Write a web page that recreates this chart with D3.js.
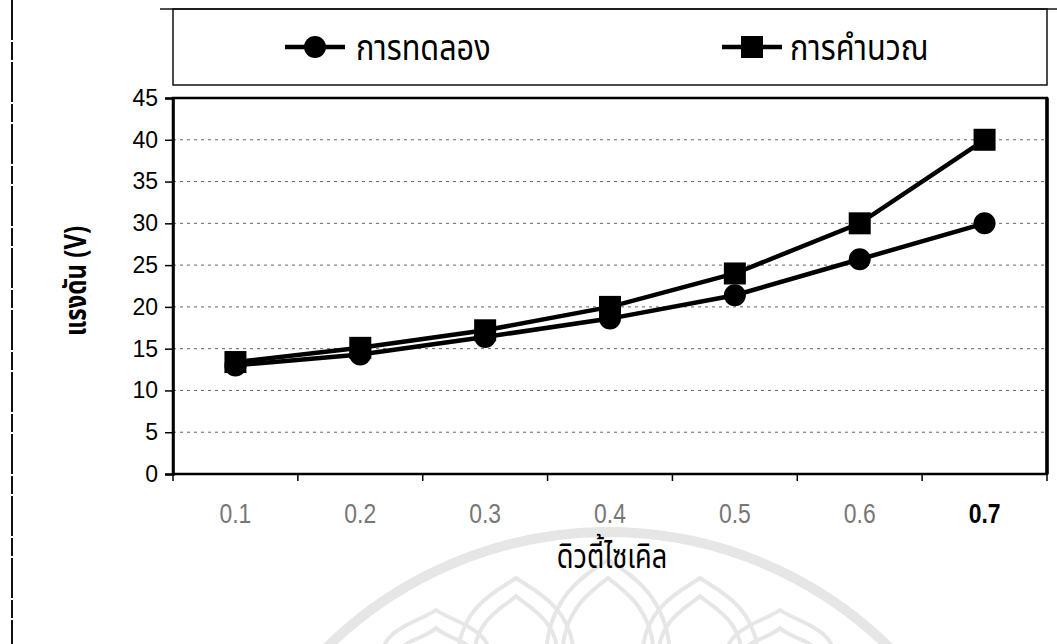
<!DOCTYPE html>
<html>
<head>
<meta charset="utf-8">
<script src="https://cdn.jsdelivr.net/npm/d3@7"></script>
<style>
  html, body { margin: 0; padding: 0; background: #fff; }
  svg { display: block; }
</style>
</head>
<body>
<svg id="chart" width="1057" height="644"></svg>
<script>
// Duty cycle categories and the two measured/computed voltage series
const dutyCycles = ["0.1", "0.2", "0.3", "0.4", "0.5", "0.6", "0.7"];
const experimentVolts = [13.0, 14.3, 16.4, 18.6, 21.4, 25.7, 30.0];
const calculatedVolts = [13.4, 15.1, 17.2, 20.0, 24.0, 30.0, 40.0];
const yTicks = [0, 5, 10, 15, 20, 25, 30, 35, 40, 45];
const seriesNames = ["การทดลอง", "การคำนวณ"];
const yTitle = "แรงดัน (V)";
const xTitle = "ดิวตี้ไซเคิล";

const thaiFont = "'Noto Sans Thai', 'Noto Sans Thai UI', Loma, Garuda, Norasi, sans-serif";

const svg = d3.select("#chart");
const W = 1057, H = 644;
const plot = { left: 173, right: 1047, top: 98, bottom: 474 };

const x = d3.scaleBand().domain(dutyCycles).range([plot.left, plot.right]).padding(0);
const y = d3.scaleLinear().domain([0, 45]).range([plot.bottom, plot.top]);

// faint emblem in the lower background
const wm = svg.append("g").attr("fill", "none").attr("stroke", "#e6e6e6");
wm.append("path")
  .attr("stroke-width", 10)
  .attr("d", d3.arc()({ innerRadius: 400, outerRadius: 400, startAngle: -Math.PI * 0.28, endAngle: Math.PI * 0.28 }))
  .attr("transform", "translate(608,932)");
function petal(cx, tipY, half, baseY) {
  const p = d3.path();
  p.moveTo(cx - half, baseY);
  p.bezierCurveTo(cx - half, tipY + (baseY - tipY) * 0.35, cx - half * 0.3, tipY + 12, cx, tipY);
  p.bezierCurveTo(cx + half * 0.3, tipY + 12, cx + half, tipY + (baseY - tipY) * 0.35, cx + half, baseY);
  return p.toString();
}
const petals = [
  { cx: 608, tip: 560, half: 62 },
  { cx: 516, tip: 578, half: 58 },
  { cx: 700, tip: 578, half: 58 },
  { cx: 436, tip: 610, half: 55 },
  { cx: 780, tip: 610, half: 55 }
];
petals.forEach(pt => {
  wm.append("path").attr("stroke-width", 4).attr("d", petal(pt.cx, pt.tip, pt.half, 660));
  wm.append("path").attr("stroke-width", 4).attr("d", petal(pt.cx, pt.tip + 18, pt.half - 16, 660));
});

// outer frame pieces
svg.append("line").attr("x1", 12).attr("x2", 12).attr("y1", 0).attr("y2", H)
  .attr("stroke", "#111").attr("stroke-width", 2).attr("stroke-dasharray", "40 2 18 2");
svg.append("line").attr("x1", 160).attr("x2", W).attr("y1", 9).attr("y2", 9)
  .attr("stroke", "#111").attr("stroke-width", 1.5);

// legend box
svg.append("rect").attr("x", 173).attr("y", 9).attr("width", 874).attr("height", 76)
  .attr("fill", "none").attr("stroke", "#111").attr("stroke-width", 1.5);

const legendItems = [
  { name: seriesNames[0], shape: "circle", lx: 285, tx: 356 },
  { name: seriesNames[1], shape: "square", lx: 722, tx: 790 }
];
const leg = svg.append("g");
legendItems.forEach(it => {
  const g = leg.append("g");
  g.append("line").attr("x1", it.lx).attr("x2", it.lx + 60).attr("y1", 47).attr("y2", 47)
    .attr("stroke", "#000").attr("stroke-width", 4.5);
  if (it.shape === "circle") {
    g.append("circle").attr("cx", it.lx + 30).attr("cy", 47).attr("r", 11).attr("fill", "#000");
  } else {
    g.append("rect").attr("x", it.lx + 19).attr("y", 36).attr("width", 22).attr("height", 22).attr("fill", "#000");
  }
  g.append("text")
    .attr("transform", `translate(${it.tx},60) scale(0.85,1)`)
    .text(it.name)
    .attr("font-family", thaiFont).attr("font-size", 36).attr("fill", "#000");
});

// gridlines
svg.append("g").selectAll("line")
  .data(yTicks.filter(t => t > 0 && t < 45))
  .join("line")
  .attr("x1", plot.left).attr("x2", plot.right)
  .attr("y1", d => y(d)).attr("y2", d => y(d))
  .attr("stroke", "#666").attr("stroke-width", 1).attr("stroke-dasharray", "3 4");

// plot frame
svg.append("rect")
  .attr("x", plot.left).attr("y", plot.top)
  .attr("width", plot.right - plot.left).attr("height", plot.bottom - plot.top)
  .attr("fill", "none").attr("stroke", "#000").attr("stroke-width", 2.5);
svg.append("line").attr("x1", plot.right).attr("x2", plot.right)
  .attr("y1", plot.top).attr("y2", plot.bottom)
  .attr("stroke", "#000").attr("stroke-width", 3.5);

// y axis
const yAxis = d3.axisLeft(y).tickValues(yTicks).tickSize(8).tickPadding(7);
const gy = svg.append("g").attr("transform", `translate(${plot.left},0)`).call(yAxis);
gy.select(".domain").attr("stroke", "#000").attr("stroke-width", 2.5);
gy.selectAll(".tick line").attr("stroke", "#000").attr("stroke-width", 1.5);
gy.selectAll(".tick text").attr("font-family", "'Liberation Sans', Arial, sans-serif")
  .attr("font-size", 23).attr("fill", "#000");

// x axis: ticks sit on the category boundaries
const xAxis = d3.axisBottom(x).tickSize(0).tickPadding(30);
const gx = svg.append("g").attr("transform", `translate(0,${plot.bottom})`).call(xAxis);
gx.select(".domain").remove();
gx.selectAll(".tick text")
  .attr("font-family", "'Liberation Sans Narrow', 'Liberation Sans', Arial, sans-serif")
  .attr("font-size", 27)
  .attr("transform", "scale(0.85,1)")
  .attr("fill", (d, i) => i === dutyCycles.length - 1 ? "#000" : "#777")
  .attr("font-weight", (d, i) => i === dutyCycles.length - 1 ? "bold" : "normal");
const boundaries = dutyCycles.map(d => x(d)).concat([plot.right]);
svg.append("g").selectAll("line").data(boundaries).join("line")
  .attr("x1", d => d).attr("x2", d => d)
  .attr("y1", plot.bottom).attr("y2", plot.bottom + 7)
  .attr("stroke", "#000").attr("stroke-width", 1.5);

// axis titles
svg.append("text")
  .attr("transform", `translate(86,${(plot.top + plot.bottom) / 2 - 5}) rotate(-90) scale(0.8,1)`)
  .attr("text-anchor", "middle")
  .attr("font-family", thaiFont).attr("font-weight", "bold").attr("font-size", 30)
  .text(yTitle);
svg.append("text")
  .attr("transform", "translate(612,568) scale(0.8,1)")
  .attr("text-anchor", "middle")
  .attr("font-family", thaiFont).attr("font-size", 34)
  .text(xTitle);

// series lines and markers
const cx = d => x(d) + x.bandwidth() / 2;
const line = d3.line().x(d => cx(d[0])).y(d => y(d[1]));
const expData = dutyCycles.map((c, i) => [c, experimentVolts[i]]);
const calData = dutyCycles.map((c, i) => [c, calculatedVolts[i]]);

svg.append("path").datum(calData).attr("d", line)
  .attr("fill", "none").attr("stroke", "#000").attr("stroke-width", 4.5);
svg.append("path").datum(expData).attr("d", line)
  .attr("fill", "none").attr("stroke", "#000").attr("stroke-width", 4.5);

svg.append("g").selectAll("rect").data(calData).join("rect")
  .attr("x", d => cx(d[0]) - 11).attr("y", d => y(d[1]) - 11)
  .attr("width", 22).attr("height", 22).attr("fill", "#000");
svg.append("g").selectAll("circle").data(expData).join("circle")
  .attr("cx", d => cx(d[0])).attr("cy", d => y(d[1])).attr("r", 11).attr("fill", "#000");
</script>
</body>
</html>
